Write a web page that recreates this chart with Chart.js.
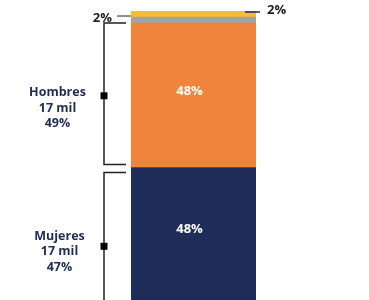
<!DOCTYPE html>
<html lang="es">
<head>
    <meta charset="UTF-8">
    <title>Distribución por sexo</title>
    <script src="https://cdn.jsdelivr.net/npm/chart.js"></script>
    <style>
        body {
            margin: 0;
            background: #ffffff;
        }
    </style>
</head>
<body>
<canvas id="chart" width="369" height="300"></canvas>

<script>
    // Datos
    const categories = ['Total'];
    const seriesNames = ['Mujeres', 'Hombres', 'Otro', 'No responde'];
    const seriesValues = [48, 48, 2, 2];
    const segmentLabels = ['48%', '48%', '2%', '2%'];
    const groupLabels = [
        ['Mujeres', '17 mil', '47%'],
        ['Hombres', '17 mil', '49%']
    ];

    // Colores
    const seriesColors = ['#1e2d57', '#f0843c', '#a3a3a3', '#f6bd2f'];
    const textColor = '#1e2d50';
    const FONT = '"Open Sans", "DejaVu Sans", sans-serif';

    // Dibuja corchetes, etiquetas y porcentajes
    const annotations = {
        id: 'annotations',
        afterDatasetsDraw(chart) {
            const ctx = chart.ctx;
            const area = chart.chartArea;
            const bars = chart.data.datasets.map((d, i) => chart.getDatasetMeta(i).data[0]);

            ctx.save();
            // porcentajes dentro de las barras grandes
            ctx.fillStyle = '#ffffff';
            ctx.font = 'bold 13px ' + FONT;
            ctx.textAlign = 'center';
            ctx.textBaseline = 'middle';
            for (let i = 0; i < 2; i++) {
                const b = bars[i];
                const bottom = Math.min(b.base, area.bottom);
                ctx.fillText(segmentLabels[i], b.x - 4, (b.y + bottom) / 2 - 4);
            }

            // corchetes de los grupos
            for (let i = 0; i < 2; i++) {
                const b = bars[i];
                const left = b.x - b.width / 2;
                const bx = left - 27;
                const top = i === 0 ? b.y + 5 : b.y;
                const bottom = i === 0 ? Math.min(b.base, area.bottom) + 2 : b.base - 3;
                ctx.strokeStyle = '#222222';
                ctx.lineWidth = 1.5;
                ctx.beginPath();
                ctx.moveTo(left - 5, top);
                ctx.lineTo(bx, top);
                ctx.lineTo(bx, bottom);
                if (i === 1) ctx.lineTo(left - 5, bottom);
                ctx.stroke();

                const mid = i === 0 ? (top + Math.min(b.base, area.bottom)) / 2 + 10 : (top + bottom) / 2 + 2;
                ctx.fillStyle = '#000000';
                ctx.fillRect(bx - 3.5, mid - 3.5, 7, 7);

                ctx.fillStyle = textColor;
                ctx.font = 'bold 12.5px ' + FONT;
                ctx.textAlign = 'center';
                const tx = i === 0 ? 59.5 : 57.5;
                const ty = i === 0 ? mid - 10 : mid - 3;
                groupLabels[i].forEach((line, k) => {
                    ctx.fillText(line, tx, ty + k * 15.5);
                });
            }

            // etiquetas de los segmentos pequeños
            const gray = bars[2];
            const yellow = bars[3];
            const gLeft = gray.x - gray.width / 2;
            const yRight = yellow.x + yellow.width / 2;

            ctx.lineWidth = 1.5;
            ctx.strokeStyle = '#5d6b8c';
            ctx.beginPath();
            ctx.moveTo(gLeft - 14, gray.y - 1);
            ctx.lineTo(gLeft, gray.y - 1);
            ctx.stroke();

            ctx.strokeStyle = '#1e2d50';
            ctx.beginPath();
            ctx.moveTo(yRight - 11, yellow.y + 1);
            ctx.lineTo(yRight + 4, yellow.y + 1);
            ctx.stroke();

            ctx.fillStyle = '#222222';
            ctx.font = 'bold 13px ' + FONT;
            ctx.textAlign = 'right';
            ctx.fillText(segmentLabels[2], gLeft - 19, gray.y + 1);
            ctx.textAlign = 'left';
            ctx.fillText(segmentLabels[3], yRight + 11, yellow.y - 1);
            ctx.restore();
        }
    };

    const chart = new Chart(document.getElementById('chart'), {
        type: 'bar',
        data: {
            labels: categories,
            datasets: seriesNames.map((name, i) => ({
                label: name,
                data: [seriesValues[i]],
                backgroundColor: seriesColors[i],
                borderWidth: 0,
                barPercentage: 1,
                categoryPercentage: 1
            }))
        },
        options: {
            responsive: false,
            animation: false,
            layout: {
                padding: {left: 131, right: 113, top: 11, bottom: 0}
            },
            plugins: {
                legend: {display: false},
                tooltip: {enabled: false}
            },
            scales: {
                x: {stacked: true, display: false},
                y: {stacked: true, display: false, min: 4, max: 100}
            }
        },
        plugins: [annotations]
    });
</script>
</body>
</html>
